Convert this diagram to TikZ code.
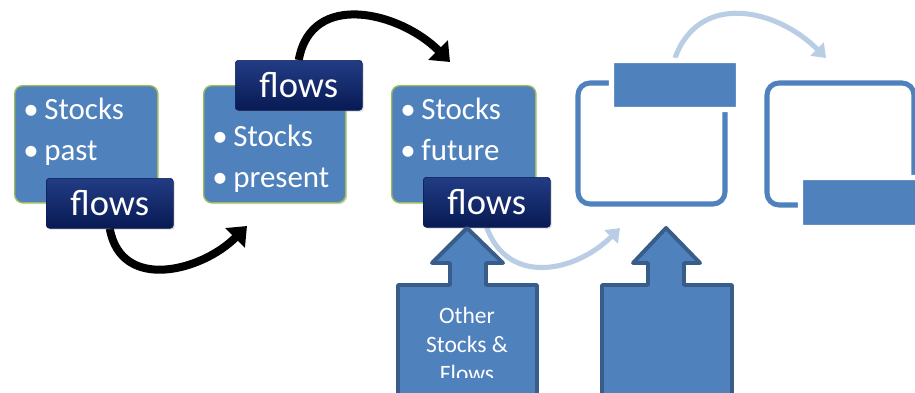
\documentclass[tikz,border=0pt]{standalone}
\usepackage{fontspec}
\setmainfont{Carlito}
\usetikzlibrary{arrows.meta,shadows,backgrounds}

\definecolor{stockblue}{HTML}{4F81BD}
\definecolor{stockgreen}{HTML}{9BBB59}
\definecolor{arrowedge}{HTML}{385D8A}
\definecolor{paleblue}{HTML}{B9CDE5}
\definecolor{navytop}{RGB}{34,60,132}
\definecolor{navybot}{RGB}{8,26,84}

\newcommand{\stockitem}[1]{\makebox[15pt][l]{\textbullet}#1}

\tikzset{
	stockbox/.style={draw=stockgreen, line width=1pt, fill=stockblue, rounded corners=2mm,
		minimum width=35.75mm, minimum height=29.25mm, anchor=north west,
		drop shadow={opacity=0.3, shadow xshift=1pt, shadow yshift=-1pt}},
	flowsbox/.style={draw=navybot, top color=navytop, bottom color=navybot, rounded corners=0.8mm,
		minimum width=31.75mm, minimum height=12.5mm, inner sep=0pt, anchor=north west,
		text=white, font=\fontsize{26}{30}\selectfont,
		drop shadow={opacity=0.3, shadow xshift=1pt, shadow yshift=-1pt}},
	bullets/.style={text=white, align=left, inner sep=0pt, anchor=north west,
		font=\fontsize{22}{29.2}\selectfont},
	flowarrow/.style={line width=5.7pt, -{Triangle[width=19pt,length=12pt]}},
	palearrow/.style={paleblue, line width=3.6pt, -{Triangle[width=13pt,length=9pt]}},
	ghostbox/.style={draw=stockblue, line width=3.6pt, rounded corners=3mm, inner sep=0pt},
	ghostrect/.style={fill=stockblue, draw=white, line width=3.6pt, rounded corners=0.5mm, inner sep=0pt},
	upbox/.style={fill=stockblue, draw=arrowedge, line width=2.8pt, line join=round}
}

\begin{document}
\begin{tikzpicture}[x=0.25mm, y=-0.25mm]
	
	\useasboundingbox (0,0) rectangle (915,392);
	
	% arrow ends
	\coordinate (tip1) at (247,226);
	\coordinate (tip2) at (450,62);
	\coordinate (tip3) at (620,228);
	\coordinate (tip4) at (826,58);
	
	% the stocks
	\node[stockbox] (past) at (14,85) {};
	\node[stockbox, minimum width=35.5mm] (present) at (203,85) {};
	\node[stockbox, minimum width=36mm] (future) at (391,85) {};
	
	\node[bullets] (pasttext) at (23,98) {\stockitem{Stocks}\\ \stockitem{past}};
	\node[bullets] (presenttext) at (212,125) {\stockitem{Stocks}\\ \stockitem{present}};
	\node[bullets] (futuretext) at (400,98) {\stockitem{Stocks}\\ \stockitem{future}};
	
	% the flows
	\node[flowsbox] (flows1) at (46,178) {flows};
	\node[flowsbox] (flows2) at (235,60) {flows};
	\node[flowsbox] (flows3) at (423,177) {flows};
	
	% faded repeat
	\node[ghostbox, minimum width=36.75mm, minimum height=30.25mm] (nextbox) at (651.5,143.5) {};
	\node[ghostbox, minimum width=36.75mm, minimum height=30.5mm] (lastbox) at (840.5,144) {};
	\node[ghostrect, minimum width=31.75mm, minimum height=12.25mm] (nextrect) at (675,85) {};
	\node[ghostrect, minimum width=33mm, minimum height=12.5mm] (lastrect) at (866.5,202.5) {};
	
	\begin{scope}[on background layer]
		\path[flowarrow] (flows1.south) edge[out=-80, in=-135, looseness=1.2] (tip1);
		\path[flowarrow] (flows2.north) edge[out=80, in=135, looseness=1.2] (tip2);
		\path[palearrow] (flows3.south) edge[out=-70, in=-135, looseness=1.2] (tip3);
		\path[palearrow] (nextrect.north) edge[out=70, in=135, looseness=1.2] (tip4);
	\end{scope}
	
	% inputs from below
	\draw[upbox] (467,228) -- (503,263) -- (486,263) -- (486,285) -- (537,285) -- (537,400)
		-- (398,400) -- (398,285) -- (450,285) -- (450,263) -- (432,263) -- cycle;
	\draw[upbox] (666,228) -- (700,263) -- (684,263) -- (684,285) -- (732,285) -- (732,400)
		-- (602,400) -- (602,285) -- (648,285) -- (648,263) -- (633,263) -- cycle;
	
	\begin{scope}
		\clip (398,285) rectangle (537,377);
		\node[text=white, align=center, inner sep=0pt, anchor=north,
			font=\fontsize{16.7}{20.6}\selectfont] (othertext) at (467,307) {Other\\ Stocks \&\\ Flows};
	\end{scope}
	
\end{tikzpicture}
\end{document}
